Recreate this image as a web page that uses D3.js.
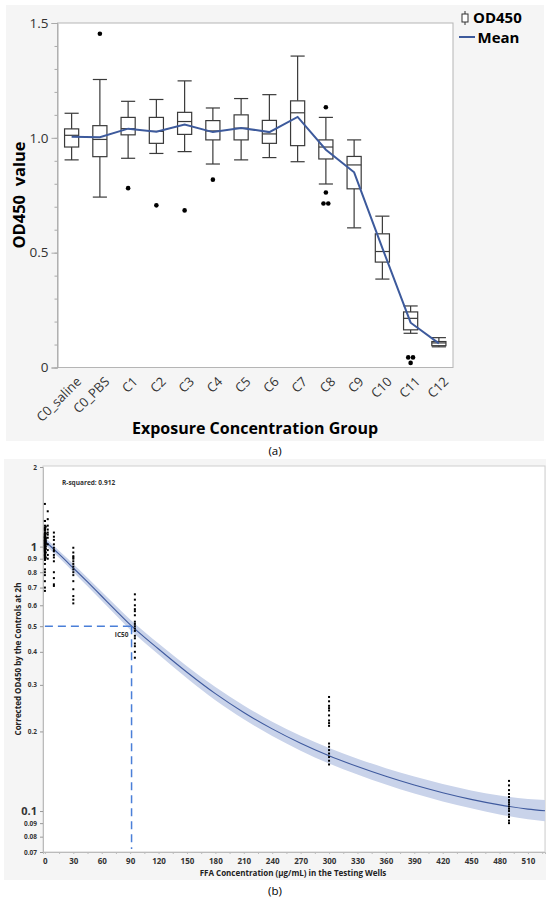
<!DOCTYPE html>
<html>
<head>
<meta charset="utf-8">
<script src="https://cdn.jsdelivr.net/npm/d3@7"></script>
<style>
body { margin: 0; background: #fff; }
svg { display: block; }
text { font-family: "Open Sans", sans-serif; }
</style>
</head>
<body>
<svg id="chart" width="550" height="901"></svg>
<script>
// ---- panel (a): box plots per exposure group ----
const groups = ["C0_saline", "C0_PBS", "C1", "C2", "C3", "C4", "C5", "C6", "C7", "C8", "C9", "C10", "C11", "C12"];
const whiskerLow  = [0.904, 0.742, 0.911, 0.932, 0.940, 0.886, 0.904, 0.914, 0.896, 0.799, 0.608, 0.385, 0.149, 0.090];
const quart1      = [0.960, 0.918, 1.013, 0.976, 1.015, 0.991, 0.991, 0.976, 0.966, 0.908, 0.778, 0.459, 0.164, 0.095];
const medians     = [1.011, 0.993, 1.040, 1.028, 1.071, 1.030, 1.042, 1.017, 1.109, 0.960, 0.882, 0.505, 0.214, 0.107];
const quart3      = [1.039, 1.053, 1.089, 1.089, 1.111, 1.075, 1.100, 1.076, 1.161, 0.991, 0.919, 0.582, 0.242, 0.113];
const whiskerHigh = [1.107, 1.254, 1.159, 1.167, 1.248, 1.130, 1.171, 1.188, 1.356, 1.089, 0.991, 0.659, 0.268, 0.130];
const means       = [1.005, 1.003, 1.040, 1.027, 1.058, 1.025, 1.043, 1.025, 1.091, 0.948, 0.850, 0.520, 0.195, 0.105];
const outliers = [[], [1.453], [0.781], [0.706], [0.684], [0.818], [], [], [],
  [1.133, 0.762, 0.714, 0.714], [], [], [0.044, 0.044, 0.020], []];
const yTicksA = [0, 0.5, 1.0, 1.5];

// ---- panel (b): dose response ----
const dotConc = [0, 0, 0.003, 0.0095, 0.03, 0.095, 0.3, 0.95, 3, 9.5, 30, 95, 300, 490];
const dotVals = [
  [0.90, 0.93, 0.96, 0.97, 0.99, 1.00, 1.01, 1.02, 1.03, 1.04, 1.06, 1.08, 1.11],
  [0.74, 0.80, 0.86, 0.92, 0.95, 0.98, 0.99, 1.01, 1.04, 1.06, 1.10, 1.18, 1.25, 1.45],
  [0.78, 0.91, 0.97, 1.01, 1.03, 1.05, 1.06, 1.08, 1.09, 1.12, 1.16],
  [0.70, 0.93, 0.96, 0.98, 1.00, 1.03, 1.05, 1.08, 1.09, 1.12, 1.17],
  [0.68, 0.94, 0.99, 1.02, 1.05, 1.07, 1.09, 1.11, 1.15, 1.20, 1.25],
  [0.82, 0.89, 0.95, 0.99, 1.01, 1.03, 1.05, 1.07, 1.08, 1.10, 1.13],
  [0.90, 0.95, 0.99, 1.01, 1.03, 1.04, 1.06, 1.09, 1.10, 1.13, 1.17],
  [0.91, 0.95, 0.98, 1.00, 1.02, 1.03, 1.05, 1.07, 1.08, 1.12, 1.19],
  [0.90, 0.93, 0.97, 1.02, 1.08, 1.11, 1.13, 1.16, 1.20, 1.27, 1.36],
  [0.71, 0.72, 0.76, 0.80, 0.88, 0.91, 0.93, 0.96, 0.97, 0.99, 1.02, 1.06, 1.09, 1.13],
  [0.61, 0.63, 0.65, 0.69, 0.74, 0.78, 0.80, 0.82, 0.84, 0.86, 0.88, 0.90, 0.91, 0.92, 0.95, 0.99],
  [0.38, 0.40, 0.42, 0.43, 0.45, 0.46, 0.48, 0.49, 0.50, 0.51, 0.52, 0.55, 0.57, 0.58, 0.60, 0.63, 0.66],
  [0.150, 0.155, 0.160, 0.165, 0.170, 0.175, 0.180, 0.210, 0.215, 0.220, 0.230, 0.240, 0.245, 0.250, 0.260, 0.270],
  [0.090, 0.092, 0.095, 0.097, 0.100, 0.102, 0.104, 0.106, 0.108, 0.110, 0.113, 0.116, 0.120, 0.125, 0.130]
];
const fitConc = [0, 15, 30, 45, 60, 75, 90, 120, 150, 180, 210, 240, 270, 300, 330, 360, 390, 420, 450, 480, 510, 528];
const fitVal  = [1.05, 0.936, 0.830, 0.735, 0.649, 0.573, 0.507, 0.41, 0.335, 0.278, 0.236, 0.2045, 0.1805, 0.1618, 0.1473, 0.1353, 0.1254, 0.1173, 0.1107, 0.1055, 0.1017, 0.1003];
const ciHigh  = [1.084, 0.964, 0.859, 0.763, 0.675, 0.597, 0.530, 0.430, 0.353, 0.2945, 0.2506, 0.2176, 0.1925, 0.1730, 0.1578, 0.1453, 0.1350, 0.1266, 0.1197, 0.1146, 0.1110, 0.1100];
const ciLow   = [1.017, 0.908, 0.802, 0.708, 0.624, 0.550, 0.485, 0.391, 0.318, 0.2624, 0.2223, 0.1922, 0.1692, 0.1513, 0.1375, 0.1260, 0.1165, 0.1087, 0.1024, 0.0971, 0.0932, 0.0915];
const ic50 = [91.5, 0.5];
const rSquared = 0.912;
const yTicksB = [2, 1, 0.9, 0.8, 0.7, 0.6, 0.5, 0.4, 0.3, 0.2, 0.1, 0.09, 0.08, 0.07];
const xTicksB = d3.range(0, 511, 30);

const svg = d3.select("#chart");
const ink = "#333";
const meanBlue = "#3d5a9c";

// ================= panel (a) =================
svg.append("rect").attr("x", 6).attr("y", 5).attr("width", 538).attr("height", 436).attr("fill", "#f5f5f5");

const xa = d3.scaleBand().domain(groups).range([57.5, 453]);
const ya = d3.scaleLinear().domain([0, 1.5]).range([367.5, 23]);
const bw = xa.bandwidth() * 0.5;

svg.append("rect").attr("x", 57.5).attr("y", 23).attr("width", 453 - 57.5).attr("height", 367.5 - 23)
  .attr("fill", "#fff").attr("stroke", "#b5b5b5").attr("stroke-width", 1);

// minor ticks
svg.append("g").attr("transform", "translate(57.5,0)")
  .call(d3.axisLeft(ya).tickValues(d3.range(0, 1.51, 0.1)).tickSize(3).tickFormat(""))
  .call(g => g.select(".domain").remove())
  .call(g => g.selectAll("line").attr("stroke", "#aaa"));
svg.append("g").attr("transform", "translate(57.5,0)")
  .call(d3.axisLeft(ya).tickValues(yTicksA).tickSize(6).tickPadding(3)
    .tickFormat(d => d === 0 ? "0" : d3.format(".1f")(d)))
  .call(g => g.select(".domain").attr("stroke", "#aaa"))
  .call(g => g.selectAll("line").attr("stroke", "#aaa"))
  .call(g => g.selectAll("text").attr("font-size", 13.5).attr("fill", ink).attr("font-family", "Open Sans"));

svg.append("g").attr("transform", "translate(0,367.5)")
  .call(d3.axisBottom(xa).tickSize(0).tickFormat(""))
  .call(g => g.select(".domain").remove());
svg.append("g").selectAll("text").data(groups).join("text")
  .attr("transform", d => `translate(${xa(d) + xa.bandwidth() / 2 + 4},${376}) rotate(-45)`)
  .attr("text-anchor", "end").attr("dy", "0.7em")
  .attr("font-size", 13).attr("fill", ink).text(d => d);

const boxes = svg.append("g").attr("fill", "none").attr("stroke", "#3a3a3a").attr("stroke-width", 1.2);
groups.forEach((g, i) => {
  const cx = xa(g) + xa.bandwidth() / 2;
  const b = boxes.append("g");
  b.append("line").attr("x1", cx).attr("x2", cx).attr("y1", ya(whiskerHigh[i])).attr("y2", ya(quart3[i]));
  b.append("line").attr("x1", cx).attr("x2", cx).attr("y1", ya(quart1[i])).attr("y2", ya(whiskerLow[i]));
  b.append("line").attr("x1", cx - bw / 2).attr("x2", cx + bw / 2).attr("y1", ya(whiskerHigh[i])).attr("y2", ya(whiskerHigh[i]));
  b.append("line").attr("x1", cx - bw / 2).attr("x2", cx + bw / 2).attr("y1", ya(whiskerLow[i])).attr("y2", ya(whiskerLow[i]));
  b.append("rect").attr("x", cx - bw / 2).attr("width", bw)
    .attr("y", ya(quart3[i])).attr("height", ya(quart1[i]) - ya(quart3[i])).attr("fill", "#fff");
  b.append("line").attr("x1", cx - bw / 2).attr("x2", cx + bw / 2).attr("y1", ya(medians[i])).attr("y2", ya(medians[i]));
  // outliers; near-equal values are set side by side
  outliers[i].forEach((v, k) => {
    const twins = outliers[i].map((w, j) => [w, j]).filter(([w]) => Math.abs(w - v) < 0.01);
    let dx = 0;
    if (twins.length > 1) dx = twins.findIndex(t => t[1] === k) === 0 ? -2.4 : 2.4;
    svg.append("circle").attr("cx", cx + dx).attr("cy", ya(v)).attr("r", 2.3).attr("fill", "#000");
  });
});

svg.append("path").datum(means)
  .attr("d", d3.line().x((d, i) => xa(groups[i]) + xa.bandwidth() / 2).y(d => ya(d)))
  .attr("fill", "none").attr("stroke", meanBlue).attr("stroke-width", 2);

svg.append("text").attr("transform", "translate(25,195) rotate(-90)").attr("text-anchor", "middle")
  .attr("font-size", 16.5).attr("font-weight", "bold").attr("fill", "#000")
  .attr("xml:space", "preserve").text("OD450  value");
svg.append("text").attr("x", 255).attr("y", 434).attr("text-anchor", "middle")
  .attr("font-size", 16).attr("font-weight", "bold").attr("fill", "#000")
  .text("Exposure Concentration Group");

// legend
const lg = svg.append("g");
lg.append("line").attr("x1", 465).attr("x2", 465).attr("y1", 11).attr("y2", 25).attr("stroke", "#333");
lg.append("rect").attr("x", 462).attr("y", 14).attr("width", 6).attr("height", 8).attr("fill", "#fff").attr("stroke", "#333");
lg.append("text").attr("x", 473).attr("y", 23).attr("font-size", 15).attr("font-weight", "bold").text("OD450");
lg.append("line").attr("x1", 459).attr("x2", 475).attr("y1", 37).attr("y2", 37).attr("stroke", meanBlue).attr("stroke-width", 2);
lg.append("text").attr("x", 477.5).attr("y", 43).attr("font-size", 15).attr("font-weight", "bold").text("Mean");

svg.append("text").attr("x", 275).attr("y", 455).attr("text-anchor", "middle")
  .attr("font-family", "DejaVu Serif").attr("font-size", 11.5).text("(a)");

// ================= panel (b) =================
svg.append("rect").attr("x", 4).attr("y", 459).attr("width", 542).attr("height", 421).attr("fill", "#f5f5f5");

const xb = d3.scaleLinear().domain([-2, 528]).range([43, 545]);
const yb = d3.scaleLog().domain([0.07, 2]).range([852, 467]);

svg.append("rect").attr("x", 43).attr("y", 466).attr("width", 545 - 43).attr("height", 852 - 466)
  .attr("fill", "#fff").attr("stroke", "#cfcfcf");

svg.append("g").attr("transform", "translate(43,0)")
  .call(d3.axisLeft(yb).tickValues(yTicksB).tickSize(3).tickPadding(3).tickFormat(d => String(d)))
  .call(g => g.select(".domain").attr("stroke", "#bbb"))
  .call(g => g.selectAll("line").attr("stroke", "#999"))
  .call(g => g.selectAll("text").attr("font-weight", "bold").attr("fill", ink).attr("font-family", "Open Sans")
    .attr("font-size", d => (d === 1 || d === 0.1) ? 11 : 6.5));

svg.append("g").attr("transform", "translate(0,852)")
  .call(d3.axisBottom(xb).tickValues(d3.range(0, 528, 15)).tickSize(2).tickFormat(""))
  .call(g => g.select(".domain").attr("stroke", "#bbb"))
  .call(g => g.selectAll("line").attr("stroke", "#bbb"));
svg.append("g").attr("transform", "translate(0,852)")
  .call(d3.axisBottom(xb).tickValues(xTicksB).tickSize(0).tickPadding(6).tickFormat(d3.format("d")))
  .call(g => g.select(".domain").remove())
  .call(g => g.selectAll("text").attr("font-weight", "bold").attr("fill", ink)
    .attr("font-family", "Open Sans").attr("font-size", 8));

const fitRows = fitConc.map((c, i) => ({ c, v: fitVal[i], lo: ciLow[i], hi: ciHigh[i] }));
svg.append("path").datum(fitRows)
  .attr("d", d3.area().curve(d3.curveMonotoneX).x(d => xb(d.c)).y0(d => yb(d.lo)).y1(d => yb(d.hi)))
  .attr("fill", "#c9d3ea");
svg.append("path").datum(fitRows)
  .attr("d", d3.line().curve(d3.curveMonotoneX).x(d => xb(d.c)).y(d => yb(d.v)))
  .attr("fill", "none").attr("stroke", "#3f5a9e").attr("stroke-width", 1.1);

const dots = svg.append("g").attr("fill", "#000");
dotConc.forEach((c, i) => {
  dotVals[i].forEach(v => {
    dots.append("rect").attr("x", xb(c) - 1).attr("y", yb(v) - 1).attr("width", 2).attr("height", 2);
  });
});

// IC50 guides
svg.append("line").attr("x1", xb(0)).attr("x2", xb(ic50[0])).attr("y1", yb(ic50[1])).attr("y2", yb(ic50[1]))
  .attr("stroke", "#4a7fd8").attr("stroke-width", 1.5).attr("stroke-dasharray", "8,5");
svg.append("line").attr("x1", xb(ic50[0])).attr("x2", xb(ic50[0])).attr("y1", yb(ic50[1])).attr("y2", 849)
  .attr("stroke", "#4a7fd8").attr("stroke-width", 1.5).attr("stroke-dasharray", "8,5");
svg.append("text").attr("x", xb(ic50[0]) - 3).attr("y", yb(ic50[1]) + 11).attr("text-anchor", "end")
  .attr("font-size", 6.5).attr("font-weight", "bold").attr("fill", ink).text("IC50");

svg.append("text").attr("x", 62).attr("y", 485).attr("font-size", 6.5).attr("font-weight", "bold")
  .attr("fill", ink).text("R-squared: " + rSquared);

svg.append("text").attr("transform", "translate(21,659) rotate(-90)").attr("text-anchor", "middle")
  .attr("font-size", 8).attr("font-weight", "bold").attr("fill", "#222")
  .text("Corrected OD450 by the Controls at 2h");
svg.append("text").attr("x", 293).attr("y", 876).attr("text-anchor", "middle")
  .attr("font-size", 8).attr("font-weight", "bold").attr("fill", "#222")
  .text("FFA Concentration (μg/mL) in the Testing Wells");

svg.append("text").attr("x", 275).attr("y", 895).attr("text-anchor", "middle")
  .attr("font-family", "DejaVu Serif").attr("font-size", 11.5).text("(b)");
</script>
</body>
</html>
